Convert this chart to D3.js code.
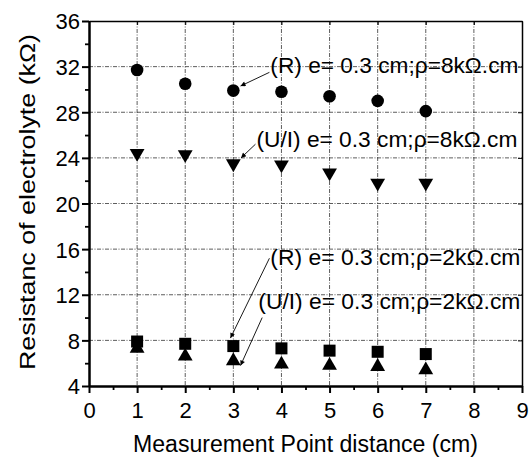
<!DOCTYPE html>
<html>
<head>
<meta charset="utf-8">
<script src="https://cdn.jsdelivr.net/npm/d3@7"></script>
<style>
body { margin: 0; background: #fff; }
svg text { font-family: "Liberation Sans", Arial, sans-serif; fill: #000; }
.grid line { stroke: #333; stroke-width: 0.8; stroke-dasharray: 4,1.5,1,1.5; }
.axis path, .axis line { stroke: #000; }
</style>
</head>
<body>
<div class="container"></div>
<script>
var width = 532;
var height = 462;
var margin = {left: 89, top: 21, right: 10, bottom: 76};
var innerWidth = width - margin.left - margin.right;
var innerHeight = height - margin.top - margin.bottom;

var distance = [1, 2, 3, 4, 5, 6, 7];
var r8 = [31.7, 30.5, 29.9, 29.8, 29.4, 29.0, 28.1];
var ui8 = [24.4, 24.3, 23.5, 23.4, 22.7, 21.8, 21.8];
var r2 = [7.9, 7.7, 7.5, 7.3, 7.1, 7.0, 6.8];
var ui2 = [7.3, 6.6, 6.2, 5.9, 5.8, 5.7, 5.4];

var xTicks = d3.range(0, 10);
var yTicks = [4, 8, 12, 16, 20, 24, 28, 32, 36];

// annotation texts, their anchor (data units) and arrow start/end (data units)
var noteText = [
    '(R) e= 0.3 cm;\u03C1=8k\u03A9.cm',
    '(U/I) e= 0.3 cm;\u03C1=8k\u03A9.cm',
    '(R) e= 0.3 cm;\u03C1=2k\u03A9.cm',
    '(U/I) e= 0.3 cm;\u03C1=2k\u03A9.cm'
];
var notePos = [[3.77, 31.45], [3.48, 24.95], [3.77, 14.6], [3.52, 10.75]];
var noteWidth = [248, 261, 250, 262];
var arrowFrom = [[3.75, 31.5], [3.46, 25.2], [3.75, 15.2], [3.6, 10.0]];
var arrowTo = [[3.15, 30.3], [3.16, 24.0], [2.94, 8.2], [3.15, 5.8]];

var translate = function(x, y) {
    return 'translate(' + x + ',' + y + ')';
};

var svg = d3.select('.container').append('svg')
    .attr('width', width)
    .attr('height', height);

svg.append('defs').append('marker')
    .attr('id', 'arrow')
    .attr('viewBox', '0 0 10 10')
    .attr('refX', 10).attr('refY', 5)
    .attr('markerWidth', 7).attr('markerHeight', 5)
    .attr('orient', 'auto')
    .attr('markerUnits', 'userSpaceOnUse')
    .append('path')
    .attr('d', 'M0,0 L10,5 L0,10 Z')
    .attr('fill', '#000');

var x = d3.scaleLinear().domain([0, 9]).range([0, innerWidth]);
var y = d3.scaleLinear().domain([4, 36]).range([innerHeight, 0]);

var g = svg.append('g').attr('transform', translate(margin.left, margin.top));

// grid
var grid = g.append('g').classed('grid', true);
grid.selectAll('.gx').data(xTicks.slice(1, -1)).enter().append('line')
    .attr('x1', function(d) { return x(d); }).attr('x2', function(d) { return x(d); })
    .attr('y1', 0).attr('y2', innerHeight);
grid.selectAll('.gy').data(yTicks.slice(1, -1)).enter().append('line')
    .attr('y1', function(d) { return y(d); }).attr('y2', function(d) { return y(d); })
    .attr('x1', 0).attr('x2', innerWidth);

// minor ticks
var xMinor = d3.range(0.5, 9, 1);
var yMinor = d3.range(6, 36, 4);

g.append('g').classed('axis', true)
    .attr('transform', translate(0, innerHeight))
    .call(d3.axisBottom(x).tickValues(xMinor).tickSize(4).tickFormat(''))
    .call(function(s) { s.select('.domain').remove(); s.selectAll('line').attr('stroke-width', 1.8); });
g.append('g').classed('axis', true)
    .call(d3.axisLeft(y).tickValues(yMinor).tickSize(4).tickFormat(''))
    .call(function(s) { s.select('.domain').remove(); s.selectAll('line').attr('stroke-width', 1.8); });

// top and right frame with inner ticks
g.append('g').classed('axis', true)
    .call(d3.axisTop(x).tickValues(xTicks).tickSizeInner(-4).tickSizeOuter(0).tickFormat(''))
    .call(function(s) { s.select('.domain').attr('stroke-width', 1.5); });
g.append('g').classed('axis', true)
    .attr('transform', translate(innerWidth, 0))
    .call(d3.axisRight(y).tickValues(yTicks).tickSizeInner(-4).tickSizeOuter(0).tickFormat(''))
    .call(function(s) { s.select('.domain').attr('stroke-width', 1.5); });

// main axes
var xAxis = g.append('g').classed('axis', true)
    .attr('transform', translate(0, innerHeight))
    .call(d3.axisBottom(x).tickValues(xTicks).tickSizeInner(7).tickSizeOuter(0).tickPadding(9));
xAxis.select('.domain').attr('stroke-width', 2.5);
xAxis.selectAll('line').attr('stroke-width', 2);
xAxis.selectAll('text').attr('font-size', 22).attr('dy', '0.72em');

var yAxis = g.append('g').classed('axis', true)
    .call(d3.axisLeft(y).tickValues(yTicks).tickSizeInner(7).tickSizeOuter(0).tickPadding(2));
yAxis.select('.domain').attr('stroke-width', 2.5);
yAxis.selectAll('line').attr('stroke-width', 2);
yAxis.selectAll('text').attr('font-size', 22).attr('dy', '0.36em');

// markers
var pts = g.append('g');
pts.selectAll('.r8').data(r8).enter().append('circle')
    .attr('cx', function(d, i) { return x(distance[i]); })
    .attr('cy', function(d) { return y(d); })
    .attr('r', 6.3);

var tri = d3.symbol().type(d3.symbolTriangle).size(95);
pts.selectAll('.ui8').data(ui8).enter().append('path')
    .attr('d', tri)
    .attr('transform', function(d, i) { return translate(x(distance[i]), y(d)) + ' rotate(180)'; });

pts.selectAll('.r2').data(r2).enter().append('rect')
    .attr('x', function(d, i) { return x(distance[i]) - 6; })
    .attr('y', function(d) { return y(d) - 6; })
    .attr('width', 12).attr('height', 12);

pts.selectAll('.ui2').data(ui2).enter().append('path')
    .attr('d', tri)
    .attr('transform', function(d, i) { return translate(x(distance[i]), y(d)); });

// annotations
var ann = g.append('g');
ann.selectAll('line').data(arrowFrom).enter().append('line')
    .attr('x1', function(d) { return x(d[0]); })
    .attr('y1', function(d) { return y(d[1]); })
    .attr('x2', function(d, i) { return x(arrowTo[i][0]); })
    .attr('y2', function(d, i) { return y(arrowTo[i][1]); })
    .attr('stroke', '#000').attr('stroke-width', 0.9)
    .attr('marker-end', 'url(#arrow)');
ann.selectAll('text').data(noteText).enter().append('text')
    .attr('x', function(d, i) { return x(notePos[i][0]); })
    .attr('y', function(d, i) { return y(notePos[i][1]); })
    .attr('font-size', 22)
    .attr('textLength', function(d, i) { return noteWidth[i]; })
    .attr('lengthAdjust', 'spacingAndGlyphs')
    .text(function(d) { return d; });

// axis titles
svg.append('text')
    .attr('x', 133)
    .attr('y', 452)
    .attr('font-size', 23)
    .attr('textLength', 345)
    .attr('lengthAdjust', 'spacingAndGlyphs')
    .text('Measurement Point distance (cm)');
svg.append('text')
    .attr('transform', translate(35, 370) + ' rotate(-90)')
    .attr('font-size', 22)
    .attr('textLength', 336)
    .attr('lengthAdjust', 'spacingAndGlyphs')
    .text('Resistanc of electrolyte (k\u03A9)');
</script>
</body>
</html>
